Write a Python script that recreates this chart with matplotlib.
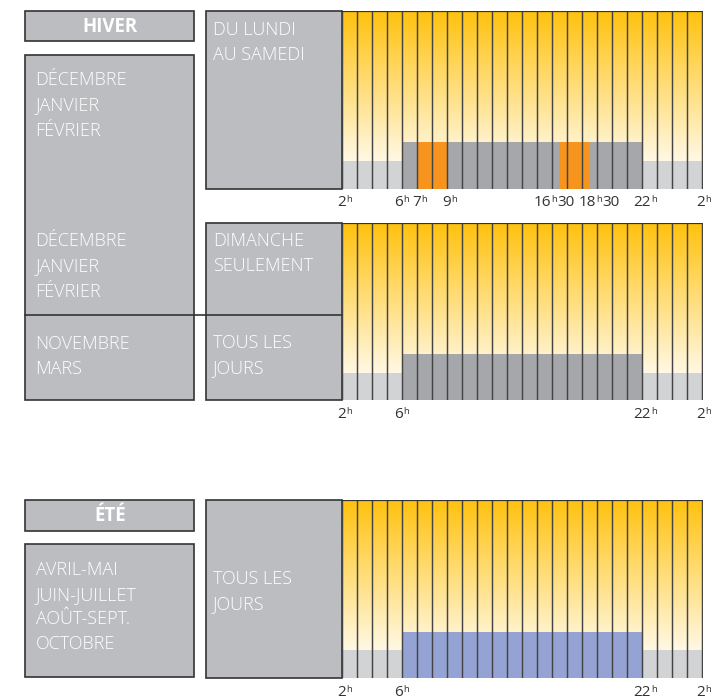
import numpy as np
import matplotlib
matplotlib.use('Agg')
import matplotlib.pyplot as plt
from matplotlib.patches import Rectangle
from matplotlib.colors import LinearSegmentedColormap

# Data
heures = np.arange(2, 26)              # start of each hourly column (2h .. 1h)
heures_creuses = [2, 3, 4, 5, 22, 23, 24, 25]
heures_pleines = list(range(6, 22))
hauteur_creuse = 0.155
hauteur_pleine = 0.26
pointes_debut = [7, 16.5]
pointes_duree = [2, 2]

ticks_semaine = [2, 6, 7, 9, 16.5, 18.5, 22, 26]
labels_semaine = ['2h', '6h', '7h', '9h', '16h30', '18h30', '22h', '2h']
ticks_autres = [2, 6, 22, 26]
labels_autres = ['2h', '6h', '22h', '2h']

saisons = ['HIVER', 'ÉTÉ']
mois_hiver = ['DÉCEMBRE', 'JANVIER', 'FÉVRIER']
mois_mi_saison = ['NOVEMBRE', 'MARS']
mois_ete = ['AVRIL-MAI', 'JUIN-JUILLET', 'AOÛT-SEPT.', 'OCTOBRE']
jours_semaine = ['DU LUNDI', 'AU SAMEDI']
jours_dimanche = ['DIMANCHE', 'SEULEMENT']
jours_tous = ['TOUS LES', 'JOURS']

# Style
W, H = 711, 698
FONT = ['Open Sans', 'DejaVu Sans']
C_BOX = '#BCBDC0'
C_EDGE = '#333333'
C_NIGHT = '#D2D3D5'
C_DAY = '#A6A7AA'
C_PEAK = '#F7941D'
C_BLUE = '#94A3D3'
C_SEP = '#444444'
C_TICK = '#333333'

fig = plt.figure(figsize=(W / 100, H / 100), dpi=100)
renderer = fig.canvas.get_renderer()

# full-figure axes in pixel coordinates (y down) for the label boxes
bg = fig.add_axes([0, 0, 1, 1], zorder=0)
bg.set_xlim(0, W)
bg.set_ylim(H, 0)
bg.axis('off')


def rect(x0, y0, x1, y1):
    return [x0 / W, 1 - y1 / H, (x1 - x0) / W, (y1 - y0) / H]


def box(x0, y0, x1, y1):
    bg.add_patch(Rectangle((x0, y0), x1 - x0, y1 - y0, facecolor=C_BOX,
                           edgecolor=C_EDGE, lw=1.2))


def lines(x, y, words, step=25.3):
    for i, w in enumerate(words):
        bg.text(x, y + i * step, w, color='white', fontsize=13, family=FONT,
                fontweight='light', va='baseline', ha='left')


def hour_label(ax, t, lbl, nudge=0):
    # number centred under the hour, small raised "h", then the minutes
    num, rest = lbl.split('h')
    xd, yd = ax.transData.transform((t, 0))
    x = xd + nudge
    y = H - yd + 17.5
    t1 = bg.text(x, y, num, ha='center', va='baseline', fontsize=11,
                 color=C_TICK, family=FONT, clip_on=False)
    x1 = t1.get_window_extent(renderer).x1
    t2 = bg.text(x1 + 0.3, y - 3.6, 'h', ha='left', va='baseline', fontsize=6.8,
                 color=C_TICK, family=FONT, clip_on=False)
    if rest:
        x2 = t2.get_window_extent(renderer).x1
        bg.text(x2 + 0.2, y, rest, ha='left', va='baseline', fontsize=11,
                color=C_TICK, family=FONT, clip_on=False)


cmap = LinearSegmentedColormap.from_list('jaune', ['#FFF8E4', '#FFC20E'])


def chart(y0, y1, ticks, labels, pleine_color, pointes=False, nudges=None):
    ax = fig.add_axes(rect(341.5, y0, 702.7, y1), zorder=2)
    grad = np.linspace(0, 1, 256).reshape(-1, 1)
    ax.imshow(grad, extent=[2, 26, hauteur_creuse, 1], origin='lower',
              aspect='auto', cmap=cmap, zorder=0)
    ax.bar(heures_creuses, hauteur_creuse, width=1, align='edge',
           color=C_NIGHT, lw=0, zorder=1)
    ax.bar(heures_pleines, hauteur_pleine, width=1, align='edge',
           color=pleine_color, lw=0, zorder=1)
    if pointes:
        ax.bar(pointes_debut, hauteur_pleine, width=pointes_duree, align='edge',
               color=C_PEAK, lw=0, zorder=2)
    ax.vlines(list(heures) + [26], 0, 1, color=C_SEP, lw=1.05, zorder=3)
    ax.axhline(1, color=C_EDGE, lw=1.6, zorder=4)
    ax.set_xlim(2, 26.05)
    ax.set_ylim(0, 1)
    ax.axis('off')
    nudges = nudges or {}
    for t, l in zip(ticks, labels):
        hour_label(ax, t, l, nudges.get(t, 0))
    return ax


# HIVER group
box(25, 11, 194, 41)
bg.text(110, 26.5, saisons[0], color='white', fontsize=13.5, family=FONT,
        fontweight='bold', ha='center', va='center')
box(25, 55, 194, 400)
box(206, 11, 341.5, 188.5)
box(206, 222.7, 341.5, 400)
bg.plot([25, 341.5], [315, 315], color=C_EDGE, lw=1.2)

lines(35.5, 85, mois_hiver)
lines(35.5, 246, mois_hiver)
lines(35.5, 349, mois_mi_saison)
lines(213, 35, jours_semaine)
lines(213, 246, jours_dimanche)
lines(213, 348, jours_tous)

chart(11, 188.5, ticks_semaine, labels_semaine, C_DAY, pointes=True,
      nudges={6: -3, 16.5: -17, 18.5: -2, 26: -1.5})
chart(222.7, 400, ticks_autres, labels_autres, C_DAY, nudges={6: -3, 26: -1.5})

# ETE group
box(25, 500, 194, 531)
bg.text(110, 516, saisons[1], color='white', fontsize=13.5, family=FONT,
        fontweight='bold', ha='center', va='center')
box(25, 544, 194, 677)
box(206, 500, 341.5, 678)
lines(35.5, 575, mois_ete, step=24.7)
lines(213, 584, jours_tous)

chart(500, 678, ticks_autres, labels_autres, C_BLUE, nudges={6: -3, 26: -1.5})

fig.savefig('out.png', dpi=100)
